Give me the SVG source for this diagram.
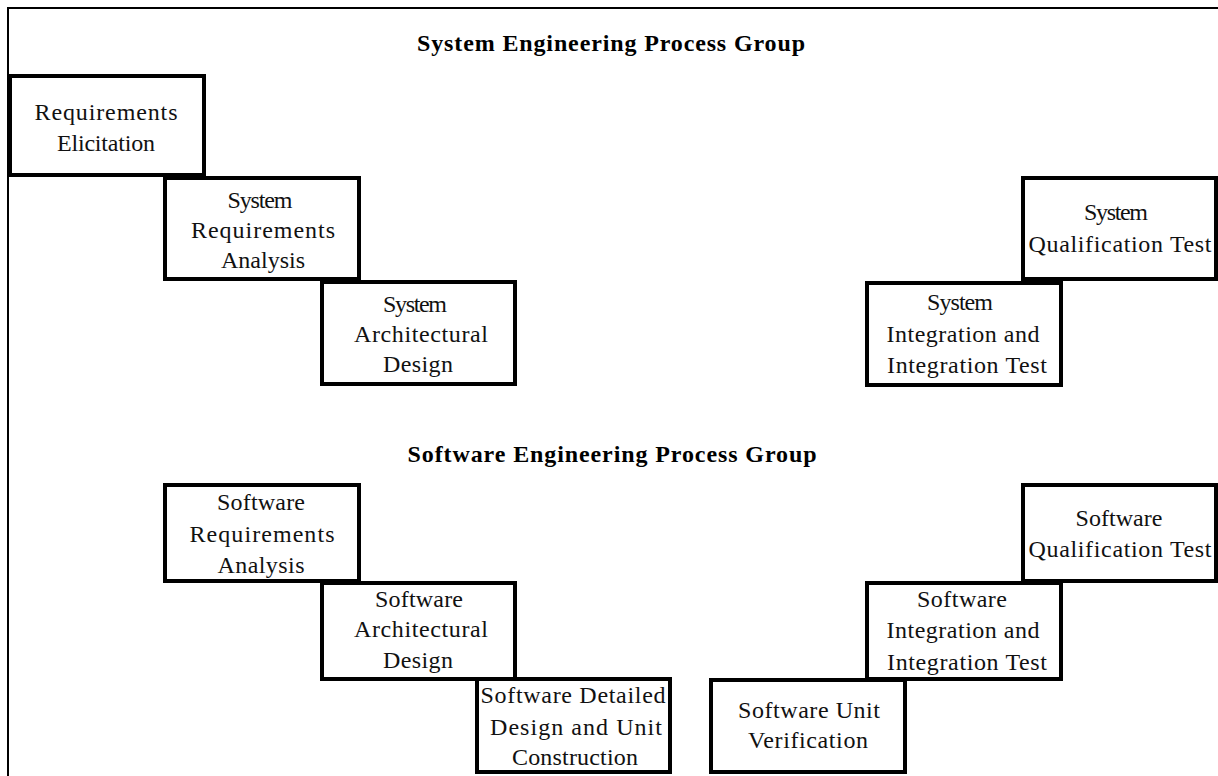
<svg xmlns="http://www.w3.org/2000/svg" width="1218" height="776" viewBox="0 0 1218 776">
<style>
.box{fill:#fff;stroke:#000;stroke-width:4}
.t{font-family:"Liberation Serif","Times New Roman",serif;font-size:24px;fill:#111;text-anchor:middle}
.h{font-family:"Liberation Serif","Times New Roman",serif;font-size:24px;font-weight:bold;fill:#000;text-anchor:middle}
</style>
<rect width="1218" height="776" fill="#fff"/>
<path d="M8 790 L8 8 L1230 8" fill="none" stroke="#000" stroke-width="2"/>
<g id="titles">
<text class="h" x="611" y="51" textLength="388" lengthAdjust="spacing">System Engineering Process Group</text>
<text class="h" x="612" y="462" textLength="409" lengthAdjust="spacing">Software Engineering Process Group</text>
</g>
<g id="connectors"></g>
<g id="req-elicitation">
<rect class="box" x="10" y="76" width="194" height="99"/>
<text class="t" x="106" y="120" textLength="143" lengthAdjust="spacing">Requirements</text>
<text class="t" x="106" y="151" textLength="98" lengthAdjust="spacing">Elicitation</text>
</g>
<g id="sys-req-analysis">
<rect class="box" x="165" y="178" width="194" height="101"/>
<text class="t" x="260" y="208" textLength="65" lengthAdjust="spacing">System</text>
<text class="t" x="263" y="238" textLength="144" lengthAdjust="spacing">Requirements</text>
<text class="t" x="263" y="268" textLength="84" lengthAdjust="spacing">Analysis</text>
</g>
<g id="sys-arch-design">
<rect class="box" x="322" y="282" width="193" height="102"/>
<text class="t" x="415" y="312" textLength="64" lengthAdjust="spacing">System</text>
<text class="t" x="421" y="342" textLength="134" lengthAdjust="spacing">Architectural</text>
<text class="t" x="418" y="372" textLength="70" lengthAdjust="spacing">Design</text>
</g>
<g id="sys-qual-test">
<rect class="box" x="1023" y="178" width="193" height="101"/>
<text class="t" x="1116" y="220" textLength="64" lengthAdjust="spacing">System</text>
<text class="t" x="1120" y="252" textLength="183" lengthAdjust="spacing">Qualification Test</text>
</g>
<g id="sys-integration">
<rect class="box" x="867" y="283" width="194" height="102"/>
<text class="t" x="960" y="310" textLength="66" lengthAdjust="spacing">System</text>
<text class="t" x="963" y="342" textLength="153" lengthAdjust="spacing">Integration and</text>
<text class="t" x="967" y="373" textLength="160" lengthAdjust="spacing">Integration Test</text>
</g>
<g id="sw-req-analysis">
<rect class="box" x="165" y="485" width="194" height="96"/>
<text class="t" x="261" y="510" textLength="88" lengthAdjust="spacing">Software</text>
<text class="t" x="262" y="542" textLength="145" lengthAdjust="spacing">Requirements</text>
<text class="t" x="261" y="573" textLength="87" lengthAdjust="spacing">Analysis</text>
</g>
<g id="sw-arch-design">
<rect class="box" x="322" y="583" width="193" height="96"/>
<text class="t" x="419" y="607" textLength="88" lengthAdjust="spacing">Software</text>
<text class="t" x="421" y="637" textLength="134" lengthAdjust="spacing">Architectural</text>
<text class="t" x="418" y="668" textLength="70" lengthAdjust="spacing">Design</text>
</g>
<g id="sw-detailed-design">
<rect class="box" x="477" y="679" width="193" height="93"/>
<text class="t" x="573" y="703" textLength="185" lengthAdjust="spacing">Software Detailed</text>
<text class="t" x="576" y="735" textLength="172" lengthAdjust="spacing">Design and Unit</text>
<text class="t" x="575" y="765" textLength="126" lengthAdjust="spacing">Construction</text>
</g>
<g id="sw-unit-verification">
<rect class="box" x="711" y="680" width="194" height="92"/>
<text class="t" x="809" y="718" textLength="142" lengthAdjust="spacing">Software Unit</text>
<text class="t" x="808" y="748" textLength="120" lengthAdjust="spacing">Verification</text>
</g>
<g id="sw-integration">
<rect class="box" x="867" y="583" width="194" height="96"/>
<text class="t" x="962" y="607" textLength="90" lengthAdjust="spacing">Software</text>
<text class="t" x="963" y="638" textLength="153" lengthAdjust="spacing">Integration and</text>
<text class="t" x="967" y="670" textLength="160" lengthAdjust="spacing">Integration Test</text>
</g>
<g id="sw-qual-test">
<rect class="box" x="1023" y="485" width="193" height="96"/>
<text class="t" x="1119" y="526" textLength="87" lengthAdjust="spacing">Software</text>
<text class="t" x="1120" y="557" textLength="183" lengthAdjust="spacing">Qualification Test</text>
</g>
</svg>
